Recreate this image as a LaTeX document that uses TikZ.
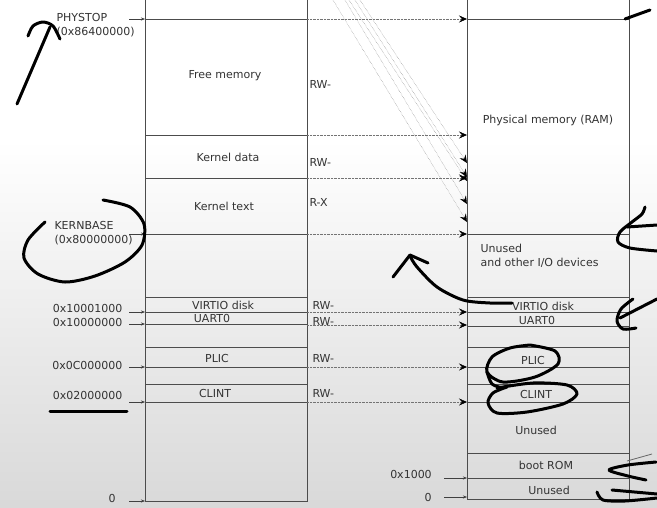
\documentclass[tikz,border=0pt]{standalone}
\usepackage{fontspec}
\setmainfont{DejaVu Sans}
\usetikzlibrary{arrows.meta}

\begin{document}
\begin{tikzpicture}[x=1pt,y=-1pt,
    every node/.style={font=\fontsize{11}{14}\selectfont,text=black!80},
    box/.style={draw=black!70,line width=0.8pt},
    map/.style={densely dotted,draw=black!55,-{Stealth[length=8pt,width=7pt,inset=3pt,black]}},
    addr/.style={draw=black!75,-{Stealth[length=4pt,width=3pt]}},
    ink/.style={line width=3pt,line cap=round,line join=round}]

\useasboundingbox (0,0) rectangle (657,507);
\fill[white] (0,0) rectangle (657,507);
\shade[top color=white,bottom color=black!15] (0,140) rectangle (657,507);

% virtual address space
\draw[box] (145,0) -- (145,501) -- (307,501) -- (307,0);
\foreach \y in {19,135,178,234,297,312,324,347,367,384,402}
  \draw[box] (145,\y) -- (307,\y);

% physical address space
\draw[box] (467,0) -- (467,499) -- (629,499) -- (629,0);
\foreach \y in {19,234,297,312,326,347,367,384,402,453,478}
  \draw[box] (467,\y) -- (629,\y);

% mappings
\foreach \y in {19,135,178,234,312,325,367,402}
  \draw[map] (307,\y) -- (467,\y);
\foreach \xa/\yb in {333/222,345/204,349/181,355/177,360/163}
  \draw[map] (\xa,0) -- (467,\yb);

% addresses
\foreach \y in {19,234,312,324,367,402,501}
  \draw[addr] (129,\y) -- (145,\y);
\draw[addr] (444,478) -- (467,478);
\draw[addr] (444,497) -- (467,497);

\node (phystop) [anchor=west,align=left] at (53,25) {PHYSTOP\\(0x86400000)};
\node (kernbase) [anchor=west,align=left] at (51,233) {KERNBASE\\(0x80000000)};
\node (virtioaddr) [anchor=east] at (126,308) {0x10001000};
\node (uartaddr) [anchor=east] at (126,322) {0x10000000};
\node (plicaddr) [anchor=east] at (126,365) {0x0C000000};
\node (clintaddr) [anchor=east] at (126,395) {0x02000000};
\node (vzero) at (112,498) {0};
\node (romaddr) at (411,474) {0x1000};
\node (pzero) at (428,497) {0};

% virtual contents
\node (freemem) at (225,76) {Free memory};
\node (kdata) at (228,157) {Kernel data};
\node (ktext) at (224,206) {Kernel text};
\node (vvirtio) at (223,305) {VIRTIO disk};
\node (vuart) at (212,318) {UART0};
\node (vplic) at (217,358) {PLIC};
\node (vclint) at (215,393) {CLINT};

% permissions
\node (pfree) [anchor=west] at (306,84) {RW-};
\node (pdata) [anchor=west] at (306,162) {RW-};
\node (ptext) [anchor=west] at (306,202) {R-X};
\node (pvirtio) [anchor=west] at (309,305) {RW-};
\node (puart) [anchor=west] at (309,321) {RW-};
\node (pplic) [anchor=west] at (309,358) {RW-};
\node (pclint) [anchor=west] at (309,393) {RW-};

% physical contents
\node (ram) at (548,120) {Physical memory (RAM)};
\node (unusedio) [anchor=west,align=left] at (477,256) {Unused\\and other I/O devices};
\node (virtio) at (543,306) {VIRTIO disk};
\node (uart) at (537,320) {UART0};
\node (plic) at (533,360) {PLIC};
\node (clint) at (536,394) {CLINT};
\node (unused) at (536,430) {Unused};
\node (bootrom) at (546,465) {boot ROM};
\node (unusedlow) at (549,490) {Unused};

% pen marks
\draw[ink] (17,104) -- (50,27);
\draw[ink] plot[smooth] coordinates {(28,36) (33,26) (43,22) (53,26) (60,39)};
\draw[ink] plot[smooth] coordinates {(103,200) (130,207) (144,224) (142,245) (125,262) (95,276) (65,282) (38,274) (24,258) (28,240) (45,222)};
\draw[ink] (50,411) -- (127,411);
\draw[ink] plot[smooth] coordinates {(512,303) (490,303) (463,300) (437,287) (417,267) (410,256)};
\draw[ink] (393,277) -- (410,255) -- (428,263);
\draw[ink] plot[smooth] coordinates {(530,345) (555,351) (558,364) (535,377) (503,382) (487,372) (492,357) (510,348) (530,345)};
\draw[ink] plot[smooth] coordinates {(487,372) (492,384) (503,388)};
\draw[ink] plot[smooth] coordinates {(497,388) (533,383) (567,385) (577,394) (563,404) (527,412) (497,413) (488,403) (493,393) (507,387)};
\draw[ink] (625,19) -- (650,10);
\draw[ink] plot[smooth] coordinates {(645,207) (642,214) (632,222) (620,232) (618,242) (630,248) (657,251)};
\draw[ink] (627,227) -- (657,225);
\draw[ink] plot[smooth] coordinates {(633,299) (621,309) (617,321) (623,329) (636,328)};
\draw[ink] (620,318) -- (657,299);
\draw[ink] plot[smooth] coordinates {(656,462) (628,465) (609,470) (628,476) (646,480)};
\draw[ink] (612,490) -- (657,494);
\draw[ink] plot[smooth] coordinates {(597,492) (603,500) (625,501) (657,498)};
\draw[black!60,line width=0.8pt] (627,461) -- (652,454);
\end{tikzpicture}
\end{document}
